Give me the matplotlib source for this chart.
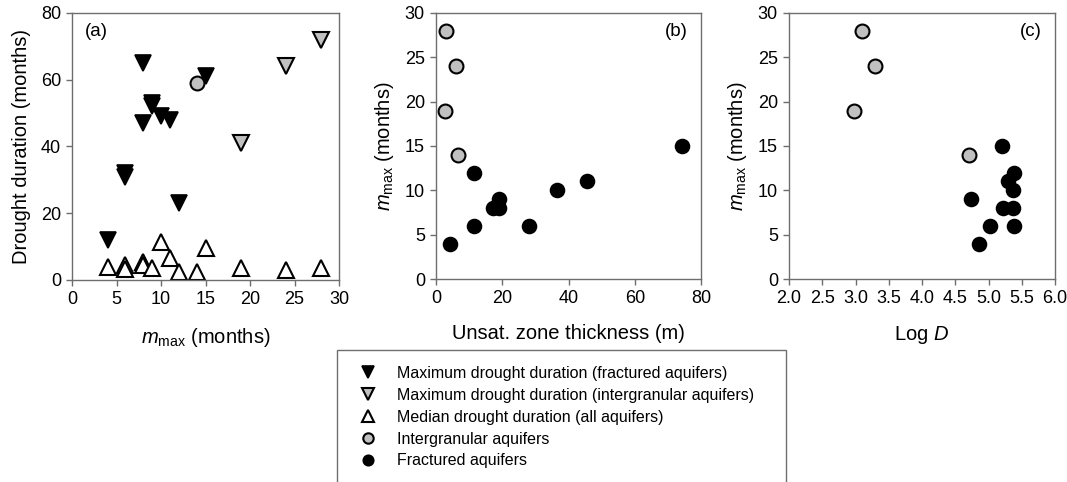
import matplotlib
matplotlib.use("Agg")
import matplotlib.pyplot as plt
from matplotlib.lines import Line2D
from matplotlib.patches import Rectangle

plt.rcParams["font.family"] = ["Liberation Sans", "DejaVu Sans"]
plt.rcParams["mathtext.fontset"] = "custom"
plt.rcParams["mathtext.rm"] = "Liberation Sans"
plt.rcParams["mathtext.it"] = "Liberation Sans:italic"

# (a) drought duration vs m_max
frac_mmax = [4, 6, 6, 8, 8, 9, 9, 10, 11, 12, 15]
frac_maxdur = [12, 32, 31, 65, 47, 53, 52, 49, 48, 23, 61]
inter_mmax = [19, 24, 28]
inter_maxdur = [41, 64, 72]
inter_circle_mmax = [14]
inter_circle_dur = [59]
all_mmax = [4, 6, 6, 8, 8, 9, 10, 11, 12, 14, 15, 19, 24, 28]
all_meddur = [4, 4.5, 3.2, 5.5, 4.5, 3.5, 11.5, 6.5, 2.5, 2.5, 9.5, 3.5, 3, 3.5]

# (b) m_max vs unsaturated zone thickness
inter_unsat = [2.9, 6.1, 2.6, 6.5]
inter_mmax_b = [28, 24, 19, 14]
frac_unsat = [4.3, 11.6, 11.4, 17.2, 18.9, 19.1, 28.1, 36.5, 45.5, 74.2]
frac_mmax_b = [4, 6, 12, 8, 8, 9, 6, 10, 11, 15]

# (c) m_max vs log D
inter_logd = [3.10, 3.30, 2.97, 4.70]
inter_mmax_c = [28, 24, 19, 14]
frac_logd = [5.21, 5.38, 5.30, 5.37, 4.74, 5.22, 5.37, 5.02, 5.39, 4.85]
frac_mmax_c = [15, 12, 11, 10, 9, 8, 8, 6, 6, 4]

GREY = "#c0c0c0"
FRAME = "#6e6e6e"
ms = 10
mt = 11
st_frac_tri = dict(marker="v", ls="none", ms=mt, mfc="black", mec="black", mew=1.2)
st_int_tri = dict(marker="v", ls="none", ms=mt, mfc=GREY, mec="black", mew=1.5)
st_med_tri = dict(marker="^", ls="none", ms=mt, mfc="white", mec="black", mew=1.5)
st_int_dot = dict(marker="o", ls="none", ms=ms, mfc=GREY, mec="black", mew=1.5)
st_frac_dot = dict(marker="o", ls="none", ms=ms, mfc="black", mec="black", mew=1.2)

fig = plt.figure(figsize=(10.67, 4.82), dpi=100)
W, H = 1067, 482


def px_axes(left, right, top, bottom):
    return fig.add_axes([left / W, (H - bottom) / H, (right - left) / W, (bottom - top) / H])


def style(ax):
    for s in ax.spines.values():
        s.set_color(FRAME)
        s.set_linewidth(1.0)
    ax.tick_params(direction="out", length=4, width=1, color=FRAME,
                   labelsize=13, top=False, right=False, pad=4)


mlabel = r"$m_{\rm max}$ (months)"
LBL = 14.5

ax1 = px_axes(72, 339, 13, 280)
ax1.plot(all_mmax, all_meddur, **st_med_tri)
ax1.plot(frac_mmax, frac_maxdur, **st_frac_tri)
ax1.plot(inter_mmax, inter_maxdur, **st_int_tri)
ax1.plot(inter_circle_mmax, inter_circle_dur, **st_int_dot)
ax1.set_xlim(0, 30)
ax1.set_ylim(0, 80)
ax1.set_xticks(range(0, 31, 5))
ax1.set_yticks(range(0, 81, 20))
ax1.set_xlabel(mlabel, fontsize=LBL, labelpad=13)
ax1.set_ylabel("Drought duration (months)", fontsize=LBL, labelpad=7)
ax1.text(0.05, 0.93, "(a)", transform=ax1.transAxes, fontsize=13.5, va="center")
style(ax1)

ax2 = px_axes(436, 701, 13, 279)
ax2.plot(inter_unsat, inter_mmax_b, **st_int_dot)
ax2.plot(frac_unsat, frac_mmax_b, **st_frac_dot)
ax2.set_xlim(0, 80)
ax2.set_ylim(0, 30)
ax2.set_xticks(range(0, 81, 20))
ax2.set_yticks(range(0, 31, 5))
ax2.set_xlabel("Unsat. zone thickness (m)", fontsize=LBL, labelpad=12)
ax2.set_ylabel(mlabel, fontsize=LBL, labelpad=6)
ax2.text(0.95, 0.93, "(b)", transform=ax2.transAxes, fontsize=13.5, va="center", ha="right")
style(ax2)

ax3 = px_axes(789, 1055, 13, 279)
ax3.plot(inter_logd, inter_mmax_c, **st_int_dot)
ax3.plot(frac_logd, frac_mmax_c, **st_frac_dot)
ax3.set_xlim(2, 6)
ax3.set_ylim(0, 30)
ax3.set_xticks([2.0, 2.5, 3.0, 3.5, 4.0, 4.5, 5.0, 5.5, 6.0])
ax3.set_xticklabels(["2.0", "2.5", "3.0", "3.5", "4.0", "4.5", "5.0", "5.5", "6.0"])
ax3.set_yticks(range(0, 31, 5))
ax3.set_xlabel("Log $D$", fontsize=LBL, labelpad=12)
ax3.set_ylabel(mlabel, fontsize=LBL, labelpad=6)
ax3.text(0.95, 0.93, "(c)", transform=ax3.transAxes, fontsize=13.5, va="center", ha="right")
style(ax3)

# legend box runs off the bottom edge
box = Rectangle((337 / W, (H - 495) / H), (786 - 337) / W, 145 / H,
                transform=fig.transFigure, fill=False, ec=FRAME, lw=1.0, clip_on=False)
fig.add_artist(box)

handles = [Line2D([], [], **st_frac_tri), Line2D([], [], **st_int_tri),
           Line2D([], [], **st_med_tri), Line2D([], [], **st_int_dot),
           Line2D([], [], **st_frac_dot)]
names = ["Maximum drought duration (fractured aquifers)",
         "Maximum drought duration (intergranular aquifers)",
         "Median drought duration (all aquifers)",
         "Intergranular aquifers",
         "Fractured aquifers"]
fig.legend(handles, names, loc="upper left", bbox_to_anchor=(360 / W, (H - 366) / H),
           frameon=False, fontsize=11.5, markerscale=0.75, handlelength=1.0,
           handletextpad=1.3, labelspacing=0.43, borderpad=0, borderaxespad=0)

fig.savefig("out.png", dpi=100)
